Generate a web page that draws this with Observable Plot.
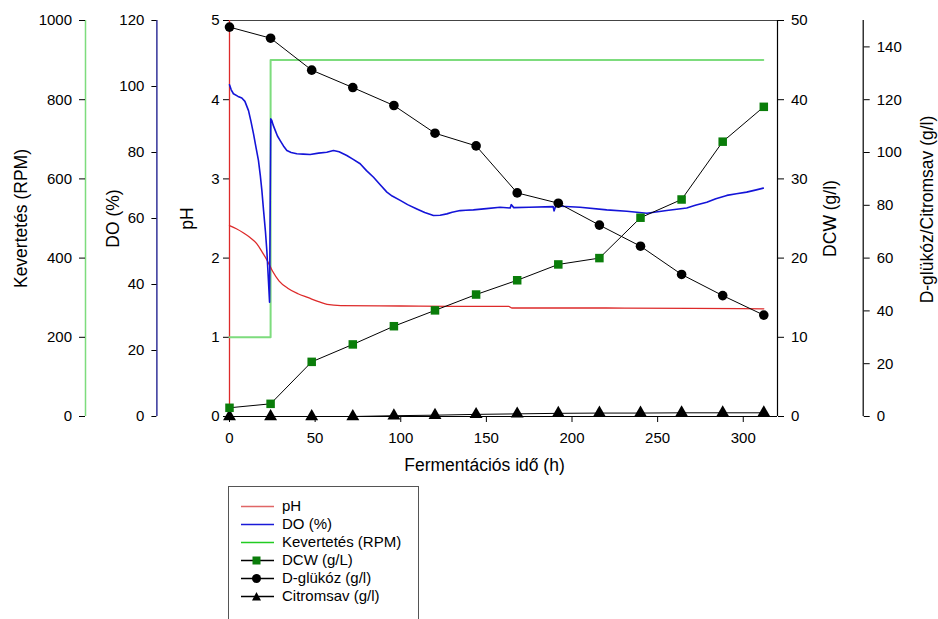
<!DOCTYPE html>
<html><head><meta charset="utf-8">
<script src="https://cdn.jsdelivr.net/npm/d3@7"></script>
<script src="https://cdn.jsdelivr.net/npm/@observablehq/plot@0.6"></script>
<style>
body{margin:0;background:#fff;font-family:"Liberation Sans",Arial,sans-serif;}
#wrap{position:relative;width:938px;height:619px;overflow:hidden;}
#legend{position:absolute;left:228px;top:486px;width:191px;height:170px;border:1px solid #555;box-sizing:border-box;background:#fff;}
.row{position:absolute;left:0;height:18px;line-height:18px;font-size:15px;white-space:nowrap;}
.row svg{position:absolute;left:11px;top:4px;}
.row span{position:absolute;left:53px;top:0;}
</style></head><body><div id="wrap"></div>
<script>
// Sampling times (h)
const times = [0,24,48,72,96,120,144,168,192,216,240,264,288,312];
// DCW (g/L) — right axis 0..50
const dcw = [1.1,1.6,6.9,9.1,11.4,13.4,15.4,17.2,19.2,20.0,25.1,27.4,34.7,39.1];
// D-glucose (g/l) — far right axis 0..150
const glucose = [147.5,143.3,131.2,124.6,117.8,107.3,102.5,84.7,80.8,72.5,64.5,53.8,45.8,38.4];
// Citric acid (g/l) — far right axis
const citric = [0,0,0,0,0.3,0.5,0.8,1.0,1.2,1.3,1.3,1.4,1.4,1.4];
// pH trace [t, pH]
const phSeries = [[0,2.41],[4,2.37],[8,2.32],[12,2.26],[16,2.18],[19,2.08],[22,1.97],[25,1.84],[29,1.71],[34,1.62],[40,1.55],[46,1.50],[52,1.45],[57,1.415],[65,1.40],[100,1.395],[130,1.39],[163,1.39],[165,1.37],[220,1.37],[270,1.365],[312,1.36]];
// DO trace [t, %]
const doSeries = [[0,100.5],[1,99],[2.3,97.8],[5,97],[7.2,96.5],[9,95.5],[11.1,92.7],[12.5,89.5],[14,85.7],[15.5,81.5],[16.9,77.6],[18,73],[18.9,68.5],[19.9,62.4],[21,56],[21.8,50.3],[22.6,42.5],[23.4,34.6],[24.1,90.2],[24.7,89.7],[25.5,88.3],[26.7,86.7],[28,85],[29.6,83.6],[31.5,82],[33.5,80.6],[36,80],[39.3,79.6],[43,79.5],[47.1,79.4],[52,79.8],[56.8,80.1],[60.7,80.6],[64,80.2],[68.5,79.1],[72,78],[76.3,76.6],[80,74.5],[84.1,72.5],[88,70.2],[91.9,68],[95,66.8],[99.7,65.5],[104,64.2],[109.4,62.9],[114,61.8],[119.1,60.9],[123,61],[126.9,61.4],[130,61.9],[134.7,62.4],[138,62.5],[142.4,62.6],[150,63],[158,63.4],[163.9,63.2],[164.5,64.2],[166,63.3],[175,63.4],[189,63.6],[189.5,62.3],[190.5,63.8],[204.7,63.4],[220.3,62.6],[232,62.2],[243.7,61.6],[255.3,62.4],[267,63.2],[272,64],[278.7,64.9],[284,66],[290.4,67],[296,67.5],[302,68],[307,68.6],[311.7,69.2]];
// Agitation [t, RPM]
const rpmSeries = [[0,200],[24,200],[24,900],[311.7,900]];
// Tick labels
const xTicks = [0,50,100,150,200,250,300];
const phTicks = [0,1,2,3,4,5];
const doTicks = [0,20,40,60,80,100,120];
const rpmTicks = [0,200,400,600,800,1000];
const dcwTicks = [0,10,20,30,40,50];
const gluTicks = [0,20,40,60,80,100,120,140];

// axis maxima, all mapped onto the pH scale 0..5
const PH_MAX = 5, DO_MAX = 120, RPM_MAX = 1000, DCW_MAX = 50, GLU_MAX = 150;
const toPh = max => v => v / max * PH_MAX;
const fromPh = max => d => String(Math.round(d * max / PH_MAX));

const phData = phSeries.map(([t, v]) => ({t, y: v}));
const doData = doSeries.map(([t, v]) => ({t, y: toPh(DO_MAX)(v)}));
const rpmData = rpmSeries.map(([t, v]) => ({t, y: toPh(RPM_MAX)(v)}));
const dcwData = times.map((t, i) => ({t, y: toPh(DCW_MAX)(dcw[i])}));
const gluData = times.map((t, i) => ({t, y: toPh(GLU_MAX)(glucose[i])}));
const citData = times.map((t, i) => ({t, y: toPh(GLU_MAX)(citric[i])}));

const RED = "#dd2a2a", BLUE = "#1414d8", GREEN = "#7ddc7d", SQ = "#0a7d0a";
const FS = 15, TFS = 17.5;

const chart = Plot.plot({
  width: 938, height: 619,
  marginLeft: 229, marginRight: 161, marginTop: 20, marginBottom: 203,
  x: {domain: [0, 320]},
  y: {domain: [0, 5]},
  style: {fontFamily: '"Liberation Sans", Arial, sans-serif', fontSize: FS + "px", color: "#000", background: "transparent"},
  marks: [
    // frame lines
    Plot.ruleY([5], {stroke: "#444", strokeWidth: 1.2}),
    Plot.ruleY([0], {stroke: "#000", strokeWidth: 1.2}),
    Plot.ruleX([320], {stroke: "#000", strokeWidth: 1.2}),
    Plot.ruleX([320], {stroke: "#000", strokeWidth: 1.2, dx: 85.7}),
    Plot.ruleX([0], {stroke: "#000080", strokeWidth: 1.2, dx: -72.6}),
    Plot.ruleX([0], {stroke: GREEN, strokeWidth: 1.5, dx: -144}),
    // axes
    Plot.axisX({ticks: xTicks, tickSize: 6, tickPadding: 9.5, label: null, fontSize: FS}),
    Plot.axisY({anchor: "left", ticks: phTicks, tickFormat: d => String(d), tickSize: 6, tickPadding: 4, label: null, fontSize: FS}),
    Plot.axisY({anchor: "left", ticks: doTicks.map(toPh(DO_MAX)), tickFormat: fromPh(DO_MAX), tickSize: 5, tickPadding: 7.5, label: null, dx: -72.6, fontSize: FS}),
    Plot.axisY({anchor: "left", ticks: rpmTicks.map(toPh(RPM_MAX)), tickFormat: fromPh(RPM_MAX), tickSize: 6, tickPadding: 7.5, label: null, dx: -144, fontSize: FS}),
    Plot.axisY({anchor: "right", ticks: dcwTicks.map(toPh(DCW_MAX)), tickFormat: fromPh(DCW_MAX), tickSize: 6, tickPadding: 7.5, label: null, fontSize: FS}),
    Plot.axisY({anchor: "right", ticks: gluTicks.map(toPh(GLU_MAX)), tickFormat: fromPh(GLU_MAX), tickSize: 6, tickPadding: 7.5, label: null, dx: 85.7, fontSize: FS}),
    // axis titles
    Plot.text(["Fermentációs idő (h)"], {frameAnchor: "bottom", textAnchor: "middle", lineAnchor: "middle", dy: 49, dx: -19, fontSize: TFS}),
    Plot.text(["Kevertetés (RPM)"], {frameAnchor: "left", textAnchor: "middle", lineAnchor: "middle", rotate: -90, dx: -208, fontSize: TFS}),
    Plot.text(["DO (%)"], {frameAnchor: "left", textAnchor: "middle", lineAnchor: "middle", rotate: -90, dx: -116, fontSize: TFS}),
    Plot.text(["pH"], {frameAnchor: "left", textAnchor: "middle", lineAnchor: "middle", rotate: -90, dx: -42.6, fontSize: TFS}),
    Plot.text(["DCW (g/l)"], {frameAnchor: "right", textAnchor: "middle", lineAnchor: "middle", rotate: -90, dx: 53, fontSize: TFS}),
    Plot.text(["D-glükóz/Citromsav (g/l)"], {frameAnchor: "right", textAnchor: "middle", lineAnchor: "middle", rotate: -90, dx: 150, dy: -9, fontSize: TFS}),
    // traces
    Plot.ruleX([0], {stroke: RED, strokeWidth: 1.3}),
    Plot.line(rpmData, {x: "t", y: "y", stroke: GREEN, strokeWidth: 2}),
    Plot.line(phData, {x: "t", y: "y", stroke: RED, strokeWidth: 1.3, curve: "monotone-x"}),
    Plot.line(doData, {x: "t", y: "y", stroke: BLUE, strokeWidth: 1.6}),
    // measured series
    Plot.line(citData, {x: "t", y: "y", stroke: "#000", strokeWidth: 1}),
    Plot.line(gluData, {x: "t", y: "y", stroke: "#000", strokeWidth: 1}),
    Plot.line(dcwData, {x: "t", y: "y", stroke: "#000", strokeWidth: 1}),
    Plot.dot(citData, {x: "t", y: "y", symbol: "triangle", r: 4.8, fill: "#000", stroke: "none"}),
    Plot.dot(gluData, {x: "t", y: "y", symbol: "circle", r: 4.8, fill: "#000", stroke: "none"}),
    Plot.dot(dcwData, {x: "t", y: "y", symbol: "square", r: 4.8, fill: SQ, stroke: "none"})
  ]
});
const wrap = document.getElementById("wrap");
wrap.appendChild(chart);

// legend
const legendItems = [
  {label: "pH", color: "#e06666", marker: null},
  {label: "DO (%)", color: "#1a1ad8", marker: null},
  {label: "Kevertetés (RPM)", color: "#22cc22", marker: null},
  {label: "DCW (g/L)", color: "#000", marker: "square"},
  {label: "D-glükóz (g/l)", color: "#000", marker: "circle"},
  {label: "Citromsav (g/l)", color: "#000", marker: "triangle"}
];
const legend = document.createElement("div");
legend.id = "legend";
legendItems.forEach((it, i) => {
  const row = document.createElement("div");
  row.className = "row";
  row.style.top = (10 + 18 * i) + "px";
  let m = "";
  if (it.marker === "square") m = '<rect x="12.5" y="1.5" width="8" height="8" fill="' + SQ + '"/>';
  if (it.marker === "circle") m = '<circle cx="16.5" cy="5.5" r="4.5" fill="#000"/>';
  if (it.marker === "triangle") m = '<path d="M16.5 1 L21 9.5 L12 9.5 Z" fill="#000"/>';
  row.innerHTML = '<svg width="34" height="11"><line x1="1" x2="34" y1="5.5" y2="5.5" stroke="' + it.color + '" stroke-width="1.3"/>' + m + '</svg><span>' + it.label + '</span>';
  legend.appendChild(row);
});
wrap.appendChild(legend);
chart.style.position = "absolute";
chart.style.left = "0";
chart.style.top = "0";
</script>
</body></html>
